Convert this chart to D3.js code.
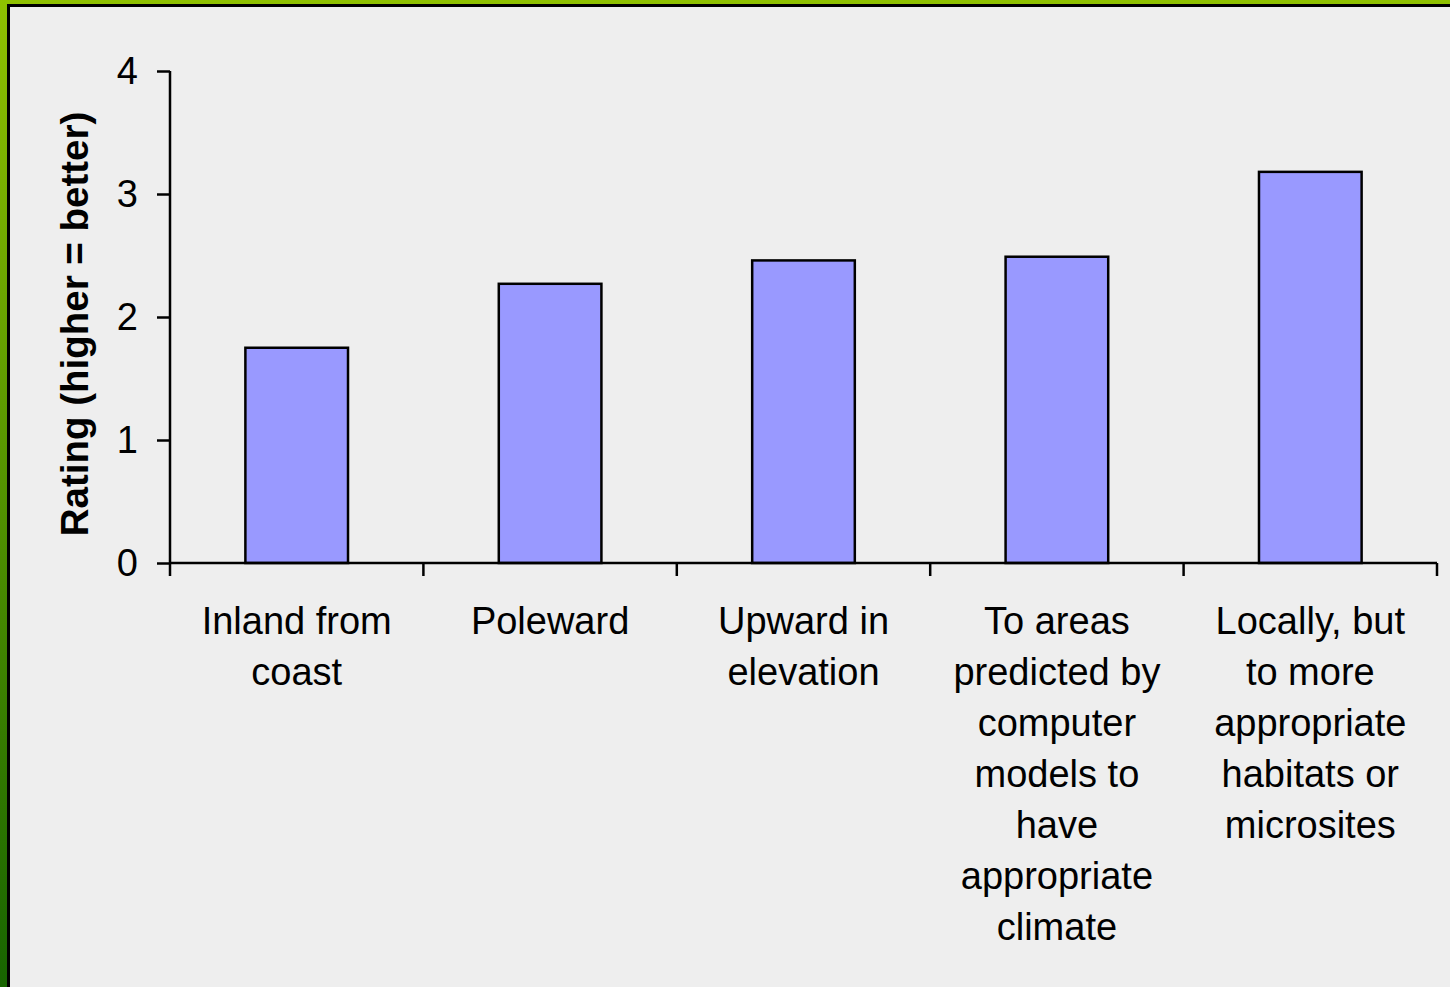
<!DOCTYPE html>
<html>
<head>
<meta charset="utf-8">
<script src="https://cdn.jsdelivr.net/npm/d3@7"></script>
<style>
  html, body { margin: 0; padding: 0; background: #eeeeee; }
  svg { display: block; font-family: 'Liberation Sans', Arial, sans-serif; }
</style>
</head>
<body>
<div id="chart"></div>
<script>
// chart data
const categories = [
  ['Inland from', 'coast'],
  ['Poleward'],
  ['Upward in', 'elevation'],
  ['To areas', 'predicted by', 'computer', 'models to', 'have', 'appropriate', 'climate'],
  ['Locally, but', 'to more', 'appropriate', 'habitats or', 'microsites']
];
const ratings = [1.75, 2.27, 2.46, 2.49, 3.18];
const yTicks = [0, 1, 2, 3, 4];
const yLabel = 'Rating (higher = better)';

const W = 1450, H = 987;
const plot = { left: 170, right: 1437, top: 71, bottom: 563 };

const svg = d3.select('#chart').append('svg')
  .attr('width', W)
  .attr('height', H);

// green frame on top / left
const grad = svg.append('defs').append('linearGradient')
  .attr('id', 'frame')
  .attr('x1', 0).attr('y1', 0).attr('x2', 0).attr('y2', 1);
grad.append('stop').attr('offset', '0%').attr('stop-color', '#8fc100');
grad.append('stop').attr('offset', '100%').attr('stop-color', '#176400');

svg.append('rect')
  .attr('width', W).attr('height', H)
  .attr('fill', 'url(#frame)');
svg.append('rect')
  .attr('x', 7).attr('y', 4)
  .attr('width', W).attr('height', H)
  .attr('fill', '#000');
svg.append('rect')
  .attr('x', 10).attr('y', 7)
  .attr('width', W).attr('height', H)
  .attr('fill', '#eeeeee');

// scales
const x = d3.scaleBand()
  .domain(d3.range(categories.length))
  .range([plot.left, plot.right])
  .paddingInner(0).paddingOuter(0);

const y = d3.scaleLinear()
  .domain([0, 4])
  .range([plot.bottom, plot.top]);

const barW = x.bandwidth() * 0.405;

// bars
svg.append('g')
  .selectAll('rect')
  .data(ratings)
  .enter()
  .append('rect')
  .attr('x', (d, i) => x(i) + (x.bandwidth() - barW) / 2)
  .attr('y', (d) => y(d))
  .attr('width', barW)
  .attr('height', (d) => y(0) - y(d))
  .attr('fill', '#9999ff')
  .attr('stroke', '#000')
  .attr('stroke-width', 2.5);

// y axis
const yAxis = svg.append('g')
  .attr('transform', 'translate(' + plot.left + ',0)')
  .call(d3.axisLeft(y).tickValues(yTicks).tickFormat(d3.format('d'))
    .tickSize(13).tickSizeOuter(0).tickPadding(19));
yAxis.select('.domain').remove();
yAxis.selectAll('.tick line').attr('stroke', '#000').attr('stroke-width', 2.5);
yAxis.selectAll('.tick text')
  .attr('fill', '#000')
  .style('font-size', '38px');
svg.append('line')
  .attr('x1', plot.left).attr('x2', plot.left)
  .attr('y1', y(4)).attr('y2', y(0) + 13)
  .attr('stroke', '#000').attr('stroke-width', 2.5);

// x axis (ticks between categories)
const edges = d3.range(categories.length + 1).map((i) => plot.left + i * x.bandwidth());
svg.append('line')
  .attr('x1', plot.left).attr('x2', plot.right)
  .attr('y1', y(0)).attr('y2', y(0))
  .attr('stroke', '#000').attr('stroke-width', 2.5);
svg.append('g')
  .selectAll('line')
  .data(edges.slice(1))
  .enter()
  .append('line')
  .attr('x1', (d) => d).attr('x2', (d) => d)
  .attr('y1', y(0)).attr('y2', y(0) + 13)
  .attr('stroke', '#000').attr('stroke-width', 2.5);

// category labels
const labels = svg.append('g')
  .selectAll('text')
  .data(categories)
  .enter()
  .append('text')
  .attr('text-anchor', 'middle')
  .style('font-size', '38px')
  .attr('fill', '#000');
labels.each(function (lines, i) {
  const cx = x(i) + x.bandwidth() / 2;
  d3.select(this).selectAll('tspan')
    .data(lines)
    .enter()
    .append('tspan')
    .attr('x', cx)
    .attr('y', (d, j) => 634 + j * 51)
    .text((d) => d);
});

// y axis title
svg.append('text')
  .attr('transform', 'translate(88,' + ((plot.top + plot.bottom) / 2 + 7) + ') rotate(-90)')
  .attr('text-anchor', 'middle')
  .style('font-size', '38.5px')
  .style('font-weight', 'bold')
  .attr('fill', '#000')
  .text(yLabel);
</script>
</body>
</html>
